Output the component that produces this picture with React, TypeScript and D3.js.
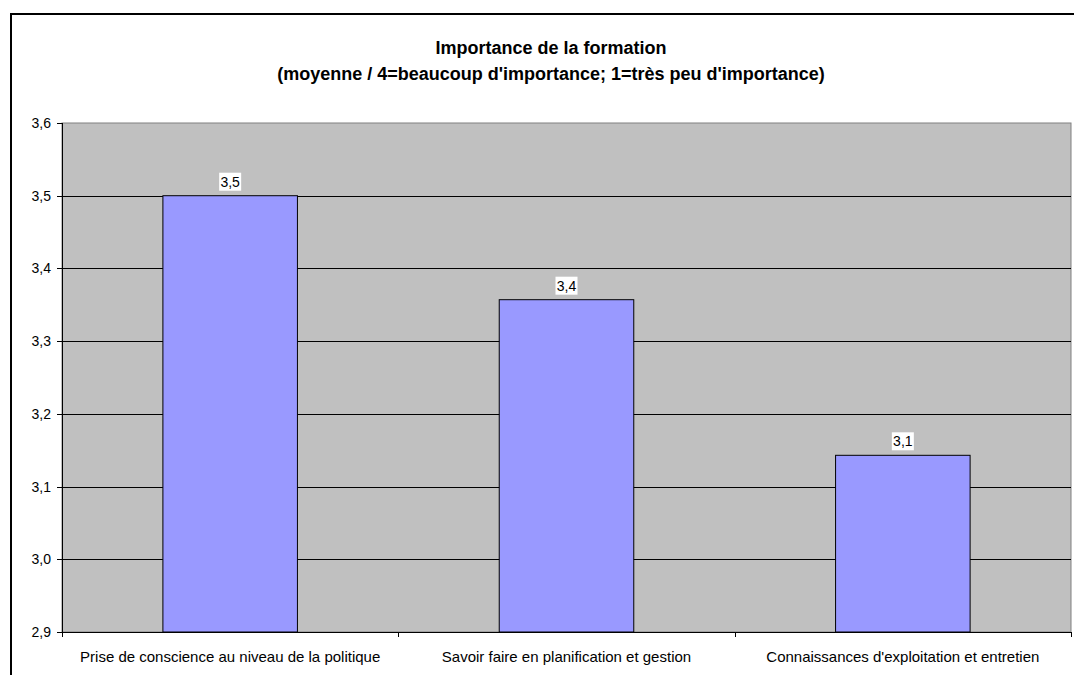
import React from "react";
import * as d3 from "d3";

const categories = [
  "Prise de conscience au niveau de la politique",
  "Savoir faire en planification et gestion",
  "Connaissances d'exploitation et entretien",
];
const values = [3.5, 3.357, 3.143];
const valueLabels = ["3,5", "3,4", "3,1"];
const yTicks = [2.9, 3.0, 3.1, 3.2, 3.3, 3.4, 3.5, 3.6];
const titleLines = [
  "Importance de la formation",
  "(moyenne / 4=beaucoup d'importance; 1=très peu d'importance)",
];

const W = 1074;
const H = 675;
const plot = { left: 62, right: 1071, top: 123, bottom: 632 };
const font = "'Liberation Sans', Arial, sans-serif";

export default function App() {
  const x = d3
    .scaleBand<string>()
    .domain(categories)
    .range([plot.left, plot.right])
    .paddingInner(0.6)
    .paddingOuter(0.3);
  const band = d3.scaleBand<string>().domain(categories).range([plot.left, plot.right]);
  const y = d3.scaleLinear().domain([2.9, 3.6]).range([plot.bottom, plot.top]);
  const fmt = (v: number) => d3.format(".1f")(v).replace(".", ",");

  return (
    <svg
      width={W}
      height={H}
      style={{ position: "absolute", left: 0, top: 0, display: "block" }}
      fontFamily={font}
    >
      <rect x={0} y={0} width={W} height={H} fill="#fff" />
      <path d={`M11,${H} V14 H${W}`} fill="none" stroke="#000" strokeWidth={2} />
      {titleLines.map((t, i) => (
        <text
          key={i}
          x={551}
          y={54 + i * 26}
          textAnchor="middle"
          fontWeight="bold"
          fontSize={18}
          fill="#000"
        >
          {t}
        </text>
      ))}
      <rect
        x={plot.left}
        y={plot.top}
        width={plot.right - plot.left}
        height={plot.bottom - plot.top}
        fill="#C0C0C0"
        stroke="#808080"
        strokeWidth={1}
      />
      {yTicks.map((t) => (
        <g key={t}>
          {t > 2.9 && t < 3.6 && (
            <line
              x1={plot.left}
              x2={plot.right}
              y1={Math.round(y(t)) + 0.5}
              y2={Math.round(y(t)) + 0.5}
              stroke="#000"
              strokeWidth={1}
            />
          )}
          <line
            x1={plot.left - 5}
            x2={plot.left}
            y1={Math.round(y(t)) + 0.5}
            y2={Math.round(y(t)) + 0.5}
            stroke="#000"
          />
          <text
            x={plot.left - 11}
            y={Math.round(y(t)) + 5}
            textAnchor="end"
            fontSize={14}
            fill="#000"
          >
            {fmt(t)}
          </text>
        </g>
      ))}
      {categories.map((c, i) => (
        <g key={c}>
          <rect
            x={x(c)!}
            y={y(values[i])}
            width={x.bandwidth()}
            height={plot.bottom - y(values[i])}
            fill="#9999FF"
            stroke="#000"
            strokeWidth={1}
          />
          <rect
            x={x(c)! + x.bandwidth() / 2 - 11}
            y={y(values[i]) - 23}
            width={22}
            height={18}
            fill="#fff"
          />
          <text
            x={x(c)! + x.bandwidth() / 2}
            y={y(values[i]) - 9}
            textAnchor="middle"
            fontSize={14}
            fill="#000"
          >
            {valueLabels[i]}
          </text>
          <text
            x={band(c)! + band.bandwidth() / 2}
            y={662}
            textAnchor="middle"
            fontSize={15}
            fill="#000"
          >
            {c}
          </text>
        </g>
      ))}
      <line x1={plot.left + 0.5} x2={plot.left + 0.5} y1={plot.top} y2={plot.bottom} stroke="#000" />
      <line x1={plot.left} x2={plot.right} y1={plot.bottom + 0.5} y2={plot.bottom + 0.5} stroke="#000" />
      {[0, 1, 2, 3].map((i) => {
        const xx = Math.round(plot.left + i * band.bandwidth()) + 0.5;
        return <line key={i} x1={xx} x2={xx} y1={plot.bottom} y2={plot.bottom + 5} stroke="#000" />;
      })}
    </svg>
  );
}
